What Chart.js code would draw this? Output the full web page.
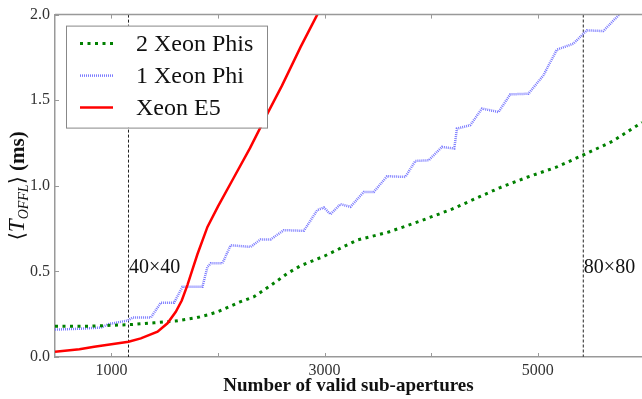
<!DOCTYPE html>
<html><head><meta charset="utf-8">
<script src="https://cdn.jsdelivr.net/npm/chart.js@4/dist/chart.umd.min.js"></script>
<style>html,body{margin:0;padding:0;background:#fff;overflow:hidden}#wrap{width:642px;height:399px}</style>
</head><body><div id="wrap"><canvas id="c" width="642" height="399"></canvas></div>
<script>
const seriesNames = ['2 Xeon Phis', '1 Xeon Phi', 'Xeon E5'];
const phi2X = [471, 800, 1000, 1200, 1400, 1600, 1800, 1900, 2000, 2200, 2337, 2500, 2650, 2774, 3000, 3305, 3600, 3900, 4200, 4450, 4647, 4900, 5178, 5427, 5700, 5977];
const phi2Y = [0.18, 0.18, 0.185, 0.19, 0.2, 0.21, 0.23, 0.245, 0.265, 0.32, 0.352, 0.42, 0.488, 0.533, 0.59, 0.683, 0.73, 0.795, 0.865, 0.935, 0.99, 1.05, 1.11, 1.18, 1.26, 1.37];
const phi1X = [471, 700, 902, 979, 1152, 1198, 1370, 1463, 1588, 1667, 1854, 1901, 1932, 2041, 2119, 2306, 2400, 2494, 2618, 2805, 2931, 2993, 3055, 3149, 3242, 3367, 3461, 3586, 3757, 3851, 3976, 4101, 4216, 4241, 4366, 4476, 4631, 4741, 4912, 5052, 5178, 5333, 5459, 5614, 5755, 5850];
const phi1Y = [0.16, 0.165, 0.172, 0.193, 0.213, 0.23, 0.23, 0.317, 0.317, 0.41, 0.41, 0.527, 0.547, 0.547, 0.653, 0.643, 0.687, 0.687, 0.741, 0.737, 0.858, 0.873, 0.834, 0.893, 0.877, 0.964, 0.964, 1.056, 1.052, 1.145, 1.149, 1.227, 1.218, 1.334, 1.354, 1.451, 1.431, 1.534, 1.538, 1.645, 1.795, 1.83, 1.908, 1.904, 1.995, 2.06];
const e5X = [471, 700, 839, 1000, 1161, 1276, 1433, 1526, 1604, 1660, 1713, 1760, 1807, 1901, 2000, 2150, 2300, 2462, 2600, 2774, 2931, 2960];
const e5Y = [0.03, 0.045, 0.06, 0.075, 0.089, 0.109, 0.148, 0.197, 0.264, 0.33, 0.42, 0.51, 0.6, 0.76, 0.88, 1.05, 1.22, 1.42, 1.585, 1.81, 2.0, 2.04];
const xTicks = [1000, 2000, 3000, 4000, 5000];
const xTickLabels = ['1000', '', '3000', '', '5000'];
const yTicks = [0, 0.5, 1, 1.5, 2];
const markerX = [1160, 5427];
const markerLabels = ['40×40', '80×80'];
const markerLabelY = 0.49;
const xTitle = 'Number of valid sub-apertures';
const xRange = [471, 5977];
const yRange = [0, 2];

const pts = (xs, ys) => xs.map((x, i) => ({x: x, y: ys[i]}));
const SERIF = '"Liberation Serif", "DejaVu Serif", serif';
const SPINE = '#999';

const decor = {
  id: 'decor',
  beforeDatasetsDraw(chart) {
    const {ctx, chartArea: ca, scales: {x, y}} = chart;
    ctx.save();
    ctx.strokeStyle = '#222';
    ctx.lineWidth = 1;
    ctx.setLineDash([3, 2]);
    markerX.forEach((v, i) => {
      const px = i === 0 ? Math.round(x.getPixelForValue(v)) + 0.5 : x.getPixelForValue(v);
      ctx.strokeStyle = i === 0 ? '#222' : '#555';
      ctx.lineWidth = i === 0 ? 1 : 1.3;
      ctx.beginPath(); ctx.moveTo(px, ca.top); ctx.lineTo(px, ca.bottom); ctx.stroke();
    });
    ctx.setLineDash([]);
    ctx.fillStyle = '#111';
    ctx.font = '20px ' + SERIF;
    ctx.textBaseline = 'alphabetic';
    ctx.textAlign = 'left';
    markerX.forEach((v, i) => {
      ctx.fillText(markerLabels[i], x.getPixelForValue(v) + 0.5, y.getPixelForValue(markerLabelY));
    });
    ctx.restore();
  },
  afterDraw(chart) {
    const {ctx, chartArea: ca, scales: {x, y}} = chart;
    ctx.save();
    ctx.strokeStyle = SPINE;
    ctx.lineWidth = 1.5;
    ctx.beginPath(); ctx.moveTo(ca.left, ca.top); ctx.lineTo(ca.right, ca.top); ctx.stroke();
    ctx.lineWidth = 1;
    xTicks.forEach(v => {
      const px = Math.round(x.getPixelForValue(v)) + 0.5;
      ctx.beginPath(); ctx.moveTo(px, ca.bottom); ctx.lineTo(px, ca.bottom - 4); ctx.stroke();
      ctx.beginPath(); ctx.moveTo(px, ca.top); ctx.lineTo(px, ca.top + 4); ctx.stroke();
    });
    yTicks.forEach(v => {
      const py = Math.round(y.getPixelForValue(v)) + 0.5;
      ctx.beginPath(); ctx.moveTo(ca.left, py); ctx.lineTo(ca.left + 4, py); ctx.stroke();
    });
    // legend
    const lx = ca.left + 11, ly = ca.top + 11, lw = 201, lh = 102;
    ctx.fillStyle = '#fff';
    ctx.fillRect(lx, ly, lw, lh);
    ctx.strokeStyle = '#888';
    ctx.lineWidth = 1;
    ctx.strokeRect(lx + 0.5, ly + 0.5, lw, lh);
    chart.data.datasets.forEach((ds, i) => {
      const cy = ly + 18 + i * 32;
      ctx.strokeStyle = ds.borderColor;
      ctx.lineWidth = ds.borderWidth;
      ctx.setLineDash(ds.borderDash || []);
      ctx.beginPath(); ctx.moveTo(lx + 14, cy); ctx.lineTo(lx + 47, cy); ctx.stroke();
      ctx.setLineDash([]);
      ctx.fillStyle = '#111';
      ctx.font = '24px ' + SERIF;
      ctx.textBaseline = 'middle';
      ctx.fillText(ds.label, lx + 70, cy + 1);
    });
    // x title
    ctx.fillStyle = '#111';
    ctx.font = 'bold 19px ' + SERIF;
    ctx.textAlign = 'center';
    ctx.textBaseline = 'alphabetic';
    ctx.fillText(xTitle, (ca.left + ca.right) / 2 - 0, 391);
    // y title (rotated, with subscript)
    const parts = [
      {t: '⟨', f: '21px "DejaVu Serif", serif', dy: 0},
      {t: 'T', f: 'italic 23px ' + SERIF, dy: 0},
      {t: 'OFFL', f: 'italic 14px ' + SERIF, dy: 4},
      {t: '⟩', f: '21px "DejaVu Serif", serif', dy: 0},
      {t: ' (ms)', f: 'bold 21px ' + SERIF, dy: 0}
    ];
    let total = 0;
    parts.forEach(p => { ctx.font = p.f; p.w = ctx.measureText(p.t).width; total += p.w; });
    ctx.translate(24, (ca.top + ca.bottom) / 2);
    ctx.rotate(-Math.PI / 2);
    ctx.textAlign = 'left';
    let cx = -total / 2;
    parts.forEach(p => { ctx.font = p.f; ctx.fillText(p.t, cx, p.dy); cx += p.w; });
    ctx.restore();
  }
};

new Chart(document.getElementById('c'), {
  type: 'line',
  data: {
    datasets: [
      {label: seriesNames[0], data: pts(phi2X, phi2Y), borderColor: '#008000', borderWidth: 3, borderDash: [3, 4.5], order: 1},
      {label: seriesNames[1], data: pts(phi1X, phi1Y), borderColor: '#7a7aff', borderWidth: 2.5, borderDash: [1, 1], order: 2},
      {label: seriesNames[2], data: pts(e5X, e5Y), borderColor: '#ff0000', borderWidth: 2.5, order: 0}
    ]
  },
  options: {
    responsive: false,
    animation: false,
    devicePixelRatio: 1,
    layout: {padding: {top: 14, left: 0, right: 0, bottom: 0}},
    elements: {point: {radius: 0}, line: {tension: 0, fill: false}},
    plugins: {legend: {display: false}, tooltip: {enabled: false}},
    scales: {
      x: {
        type: 'linear', min: xRange[0], max: xRange[1],
        afterBuildTicks: s => { s.ticks = xTicks.map(v => ({value: v})); },
        afterFit: s => { s.height = 42; },
        grid: {display: false, drawTicks: false},
        border: {display: true, color: SPINE, width: 1.5},
        ticks: {
          autoSkip: false, maxRotation: 0, padding: 4, color: '#333',
          font: {family: SERIF, size: 16},
          callback: v => xTickLabels[xTicks.indexOf(v)]
        }
      },
      y: {
        type: 'linear', min: yRange[0], max: yRange[1],
        afterBuildTicks: s => { s.ticks = yTicks.map(v => ({value: v})); },
        afterFit: s => { s.width = 55; },
        grid: {display: false, drawTicks: false},
        border: {display: true, color: SPINE, width: 1.5},
        ticks: {
          padding: 5, color: '#333',
          font: {family: SERIF, size: 16},
          callback: v => v.toFixed(1)
        }
      }
    }
  },
  plugins: [decor]
});
</script>
</body></html>
